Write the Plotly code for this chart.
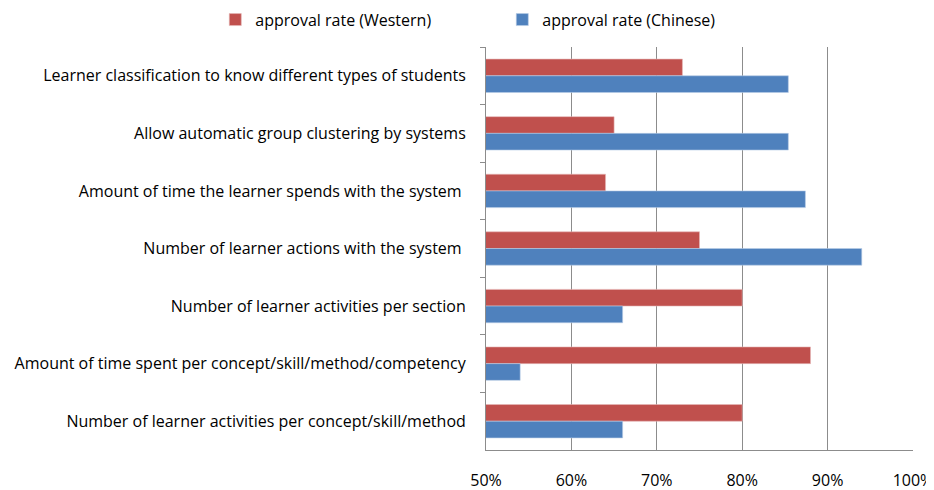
import plotly.graph_objects as go

categories = [
    "Learner classification to know different types of students",
    "Allow automatic group clustering by systems",
    "Amount of time the learner spends with the system ",
    "Number of learner actions with the system ",
    "Number of learner activities per section",
    "Amount of time spent per concept/skill/method/competency",
    "Number of learner activities per concept/skill/method",
]
western = [73, 65, 64, 75, 80, 88, 80]
chinese = [85.4, 85.4, 87.4, 94, 66, 54, 66]
tick_vals = [50, 60, 70, 80, 90, 100]
tick_text = ["50%", "60%", "70%", "80%", "90%", "100%"]

FONT = "Open Sans"

fig = go.Figure()
fig.add_trace(go.Bar(
    y=categories, x=western, orientation="h",
    name="approval rate (Western)",
    marker=dict(color="#C0504D", line=dict(color="#E6B9B8", width=0.6)),
))
fig.add_trace(go.Bar(
    y=categories, x=chinese, orientation="h",
    name="approval rate (Chinese)",
    marker=dict(color="#4F81BD", line=dict(color="#B9CDE5", width=0.6)),
))

fig.update_layout(
    width=926, height=482,
    margin=dict(l=478, r=21, t=39, b=40, autoexpand=False),
    paper_bgcolor="white", plot_bgcolor="white",
    barmode="group", bargap=0.42, bargroupgap=0,
    font=dict(family=FONT, size=16, color="#000000"),
    legend=dict(
        orientation="h",
        x=-0.634, y=1.11, xanchor="left", yanchor="top",
        entrywidth=242, entrywidthmode="pixels",
        itemwidth=30, font=dict(size=16, family=FONT),
        traceorder="normal", bgcolor="rgba(0,0,0,0)",
    ),
    showlegend=True,
)
fig.update_xaxes(
    range=[50, 100], tickvals=tick_vals, ticktext=tick_text,
    showgrid=True, gridcolor="#8C8C8C", gridwidth=1,
    showline=True, linecolor="#8C8C8C", linewidth=1, mirror=False,
    ticks="", ticklabelstandoff=16, zeroline=False,
    ticklabeloverflow="allow",
)
fig.update_yaxes(
    autorange="reversed", showline=True, linecolor="#8C8C8C", linewidth=1,
    ticks="outside", tickson="boundaries", ticklen=5, tickcolor="#8C8C8C",
    ticklabelstandoff=16, showgrid=False,
)
fig.write_html("out.html")
